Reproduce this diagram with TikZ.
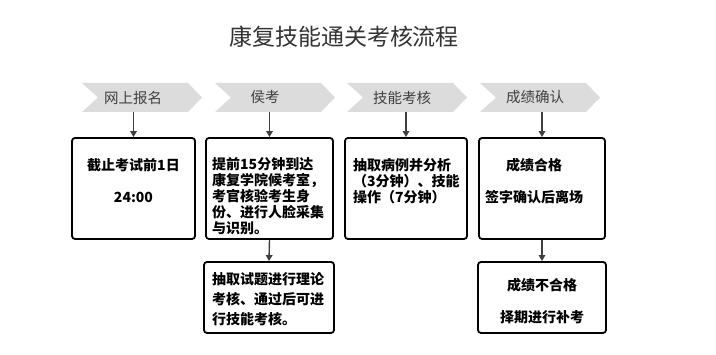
\documentclass[tikz,border=0pt]{standalone}
\usepackage{fontspec}
\newfontfamily\cjk{Noto Sans CJK SC}
\usetikzlibrary{arrows.meta}
\definecolor{chev}{HTML}{DCDCDC}
\definecolor{dgray}{HTML}{404040}
\definecolor{tgray}{HTML}{333333}
\begin{document}
\begin{tikzpicture}[x=1pt,y=-1pt,
  chevshape/.style={fill=chev,draw=none},
  chevtext/.style={font=\cjk\fontsize{14.5}{16}\selectfont,text=dgray,inner sep=0pt},
  stagebox/.style={draw=black,line width=1.8pt,rounded corners=3pt,inner sep=0pt},
  boxtext/.style={font=\cjk\bfseries\fontsize{14}{16}\selectfont,inner sep=0pt,text=black},
  arr/.style={draw=dgray,line width=1.4pt,-{Triangle[length=6pt,width=6.5pt]}}]
\useasboundingbox (0,0) rectangle (716,355);
\fill[white] (0,0) rectangle (716,355);
% title
\node[font=\cjk\fontsize{23}{26}\selectfont,text=tgray,inner sep=0pt] (title) at (344,37) {康复技能通关考核流程};
% chevrons
\foreach \L in {82,215,347,480}{
  \path[chevshape] (\L,83) -- (\L+106,83) -- (\L+120,97.5) -- (\L+106,112) -- (\L,112) -- (\L+16,97.5) -- cycle;
}
\node[chevtext] (c1) at (133,97.5) {网上报名};
\node[chevtext] (c2) at (265,97.5) {侯考};
\node[chevtext] (c3) at (402,97.5) {技能考核};
\node[chevtext] (c4) at (535,97.5) {成绩确认};
\coordinate (c1b) at (133.5,112);
\coordinate (c2b) at (269.5,112);
\coordinate (c3b) at (406,112);
\coordinate (c4b) at (542,112);
% boxes
\node[stagebox,minimum width=123pt,minimum height=101pt] (b1) at (133.5,188.5) {};
\node[stagebox,minimum width=127pt,minimum height=101pt] (b2) at (269.5,188.5) {};
\node[stagebox,minimum width=122pt,minimum height=101pt] (b3) at (406,188.5) {};
\node[stagebox,minimum width=126pt,minimum height=101pt] (b4) at (542,188.5) {};
\node[stagebox,minimum width=130pt,minimum height=71pt] (b5) at (269,297.5) {};
\node[stagebox,minimum width=128pt,minimum height=71pt] (b6) at (542,297.5) {};
% texts
\node[boxtext,align=center] (t1) at (133.5,181) {截止考试前1日\\[16pt]24:00};
\node[boxtext,align=left,anchor=west] (t2) at (212,196) {提前15分钟到达\\康复学院候考室，\\考官核验考生身\\份、进行人脸采集\\与识别。};
\node[boxtext,align=left,anchor=west] (t3) at (353,181) {抽取病例并分析\\（3分钟）、技能\\操作（7分钟）};
\node[boxtext,align=center] (t4) at (534,181) {成绩合格\\[16pt]签字确认后离场};
\node[boxtext,align=left,anchor=west,font=\cjk\bfseries\fontsize{14}{20}\selectfont] (t5) at (212,299) {抽取试题进行理论\\考核、通过后可进\\行技能考核。};
\node[boxtext,align=center] (t6) at (542,301) {成绩不合格\\[16pt]择期进行补考};
% arrows
\draw[arr] (c1b) -- (b1.north);
\draw[arr] (c2b) -- (b2.north);
\draw[arr] (c3b) -- (b3.north);
\draw[arr] (c4b) -- (b4.north);
\draw[arr] (b2.south) -- (b5.north);
\draw[arr] (b4.south) -- (b6.north);
\end{tikzpicture}
\end{document}
